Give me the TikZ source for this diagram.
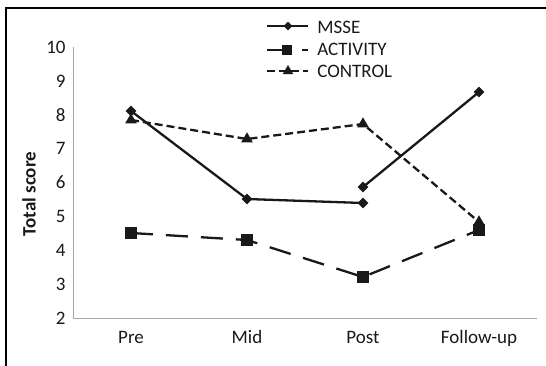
\documentclass[tikz,border=0pt]{standalone}
\usepackage{fontspec}
\setmainfont{Carlito}
\usetikzlibrary{shapes.geometric}

\tikzset{every picture/.style={line width=0.75pt}}
\tikzset{
    msse line/.style={line width=2.3pt, color=black!90},
    activity line/.style={line width=2.3pt, color=black!90, dash pattern={on 22pt off 13pt}},
    control line/.style={line width=2.3pt, color=black!90, dash pattern={on 8pt off 4pt}},
    msse mark/.style={diamond, fill=black!90, inner sep=0pt, minimum size=11pt},
    activity mark/.style={rectangle, fill=black!90, inner sep=0pt, minimum size=12pt},
    control mark/.style={regular polygon, regular polygon sides=3, fill=black!90, inner sep=0pt, minimum size=13.5pt},
    axis line/.style={color=black!35, line width=1pt},
    lbl/.style={font=\fontsize{19}{22}\selectfont, text=black!90, inner sep=0pt},
}

\begin{document}
\begin{tikzpicture}[x=1pt,y=1pt,yscale=-1]
        \useasboundingbox (0,0) rectangle (546,365);
        % frame
        \draw [line width=1.8pt] (6,366) -- (6,8.3) -- (547,8.3) ;
        % axes
        \coordinate (yTop) at (73,47);
        \coordinate (origin) at (73,318);
        \coordinate (xEnd) at (537,318);
        \draw [axis line] (yTop) -- (origin) -- (xEnd) ;
        \foreach \v in {2,...,10}
            \node [lbl, anchor=east] (tick\v) at (66,{318-33.875*(\v-2)}) {\v};
        \node [lbl, anchor=base] (catPre) at (131,343.5) {Pre};
        \node [lbl, anchor=base] (catMid) at (247,343.5) {Mid};
        \node [lbl, anchor=base] (catPost) at (363,343.5) {Post};
        \node [lbl, anchor=base] (catFollow) at (479,343.5) {Follow-up};
        \node [lbl, font=\fontsize{19}{22}\selectfont\bfseries, rotate=90] (yTitle) at (29,194) {Total score};
        % data points
        \coordinate (mssePre) at (131,111);
        \coordinate (msseMid) at (247,199);
        \coordinate (mssePostA) at (363,203);
        \coordinate (mssePostB) at (363,187);
        \coordinate (msseFollow) at (479,92);
        \coordinate (actPre) at (131,233);
        \coordinate (actMid) at (247,240);
        \coordinate (actPost) at (363,277);
        \coordinate (actFollow) at (479,230);
        \coordinate (ctrlPre) at (131,120);
        \coordinate (ctrlMid) at (247,139);
        \coordinate (ctrlPost) at (363,124);
        \coordinate (ctrlFollow) at (479,222);
        % series
        \draw [msse line] (mssePre) -- (msseMid) -- (mssePostA) ;
        \draw [msse line] (mssePostB) -- (msseFollow) ;
        \draw [activity line] (actPre) -- (actMid) -- (actPost) -- (actFollow) ;
        \draw [control line] (ctrlPre) -- (ctrlMid) -- (ctrlPost) -- (ctrlFollow) ;
        \foreach \p in {ctrlPre,ctrlMid,ctrlPost,ctrlFollow}
            \node [control mark] at (\p) {};
        \foreach \p in {actPre,actMid,actPost,actFollow}
            \node [activity mark] at (\p) {};
        \foreach \p in {mssePre,msseMid,mssePostA,mssePostB,msseFollow}
            \node [msse mark] at (\p) {};
        % legend
        \coordinate (legMsseA) at (267,26);
        \coordinate (legMsseB) at (308,26);
        \coordinate (legActA) at (267,50);
        \coordinate (legActB) at (308,50);
        \coordinate (legCtrlA) at (267,71);
        \coordinate (legCtrlB) at (308,71);
        \draw [msse line] (legMsseA) -- (legMsseB) ;
        \draw [activity line] (legActA) -- (legActB) ;
        \draw [control line] (legCtrlA) -- (legCtrlB) ;
        \node [msse mark, minimum size=9pt] (legMsseMark) at (288,26) {};
        \node [activity mark, minimum size=10pt] (legActMark) at (287,50) {};
        \node [control mark, minimum size=12pt] (legCtrlMark) at (288,71) {};
        \node [lbl, anchor=west] (legMsse) at (317,27) {MSSE};
        \node [lbl, anchor=west] (legAct) at (317,49.7) {ACTIVITY};
        \node [lbl, anchor=west] (legCtrl) at (317,71) {CONTROL};
\end{tikzpicture}
\end{document}
